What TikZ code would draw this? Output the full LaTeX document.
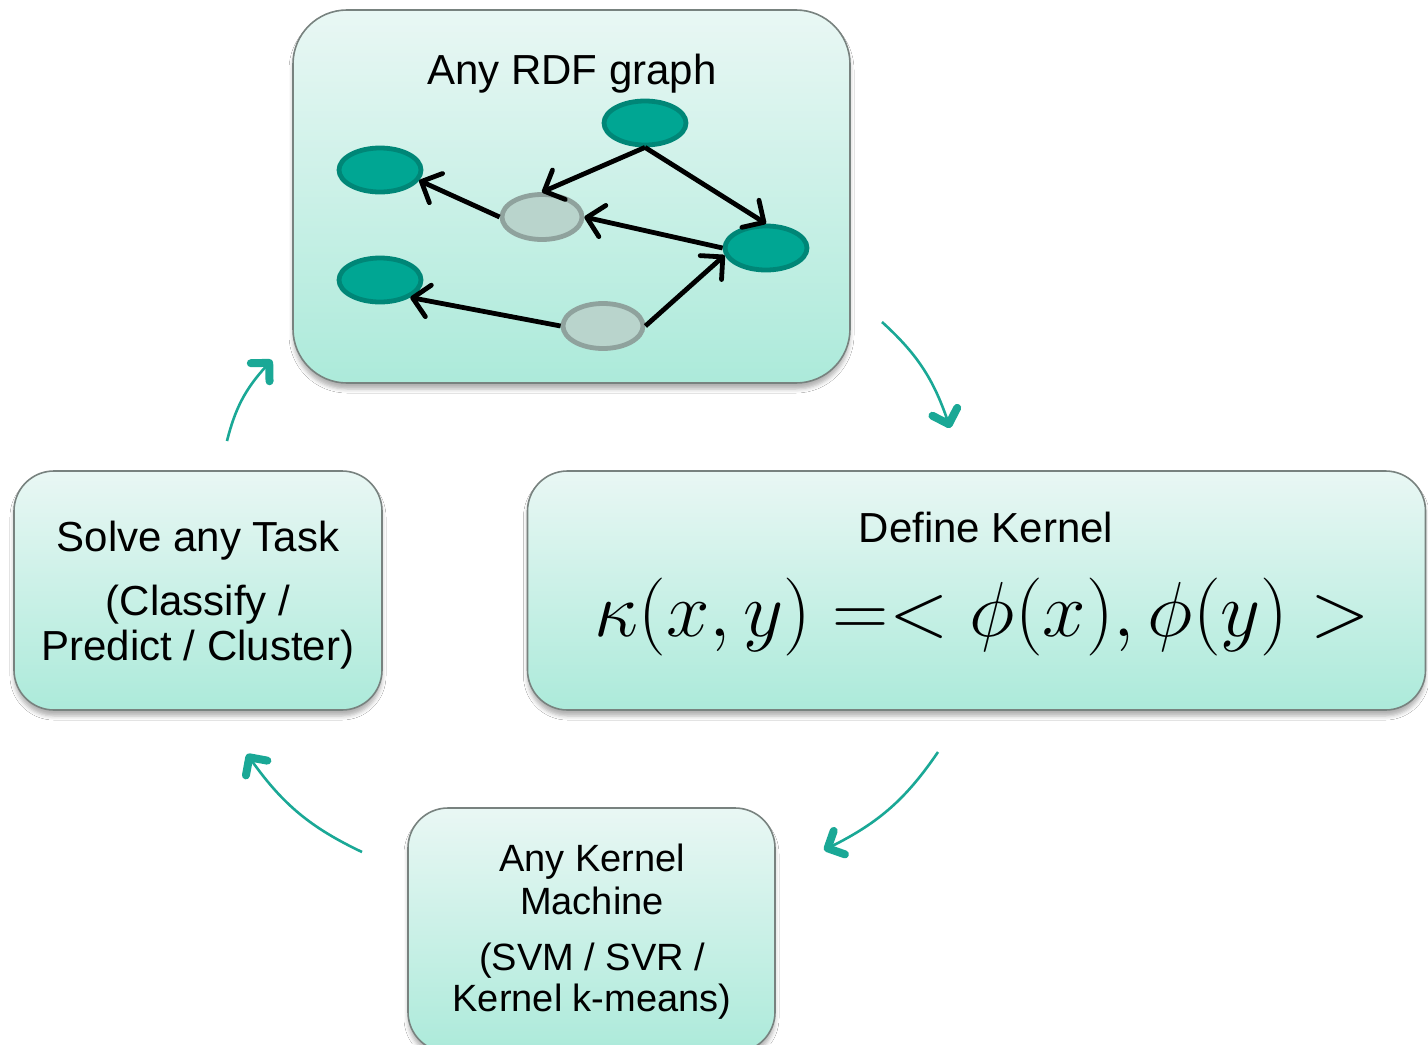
\documentclass[tikz,border=0pt]{standalone}
\usepackage{fontspec}
\setmainfont{Liberation Sans}
\usetikzlibrary{arrows.meta,bending,shapes.geometric,shadows.blur}

\definecolor{boxtop}{RGB}{233,247,244}
\definecolor{boxbot}{RGB}{172,234,218}
\definecolor{boxline}{RGB}{120,130,127}
\definecolor{tealfill}{RGB}{0,166,147}
\definecolor{tealline}{RGB}{0,134,119}
\definecolor{greyfill}{RGB}{185,212,204}
\definecolor{greyline}{RGB}{143,162,157}
\definecolor{flow}{RGB}{26,168,150}

\tikzset{
  panel/.style={draw=boxline, line width=0.8pt, rounded corners=20pt,
    top color=boxtop, bottom color=boxbot, inner sep=0pt,
    blur shadow={shadow xshift=0pt, shadow yshift=-3pt,
      shadow blur radius=2pt, shadow opacity=30}},
  bigtxt/.style={font=\fontsize{21}{25}\selectfont, inner sep=0pt, anchor=base},
  smalltxt/.style={font=\fontsize{19}{23}\selectfont, inner sep=0pt, anchor=base},
  tealnode/.style={ellipse, draw=tealline, fill=tealfill, line width=2.4pt,
    minimum width=41pt, minimum height=22pt, inner sep=0pt},
  greynode/.style={ellipse, draw=greyline, fill=greyfill, line width=2.4pt,
    minimum width=40pt, minimum height=22.5pt, inner sep=0pt},
  link/.style={draw=black, line width=2.4pt,
    -{Straight Barb[length=8pt,width=16pt,round]}},
  flowarrow/.style={draw=flow, line width=1.3pt,
    -{Straight Barb[length=6.5pt,width=13pt,line width=4pt,round]}},
}

\begin{document}
\begin{tikzpicture}[x=0.5pt,y=-0.5pt]
  \useasboundingbox (0,0) rectangle (1428,1044);
  \fill[white] (0,0) rectangle (1428,1044);
  \clip (0,0) rectangle (1428,1044);

  % panels
  \node[panel, rounded corners=27pt, minimum width=278.5pt, minimum height=186.5pt]
    (rdf) at (571.5,196.5) {};
  \node[panel, minimum width=184pt, minimum height=119.5pt]
    (task) at (198,590.5) {};
  \node[panel, minimum width=449pt, minimum height=119.5pt]
    (kernel) at (976.5,590.5) {};
  \node[panel, minimum width=183.5pt, minimum height=122pt]
    (machine) at (591.5,930) {};

  % panel texts
  \node[bigtxt] (rdftitle) at (572,84) {Any RDF graph};
  \node[bigtxt] (kerneltitle) at (986,542) {Define Kernel};
  \node[inner sep=0pt, anchor=base, font=\fontsize{24.88}{30}\selectfont]
    (formula) at (982,636)
    {\scalebox{1.567}{$\kappa(x,y) =< \phi(x),\phi(y) >$}};
  \node[bigtxt] (task1) at (198,551) {Solve any Task};
  \node[bigtxt] (task2) at (198,615) {(Classify /};
  \node[bigtxt] (task3) at (198,660) {Predict / Cluster)};
  \node[smalltxt] (mach1) at (592,871) {Any Kernel};
  \node[smalltxt] (mach2) at (592,914) {Machine};
  \node[smalltxt] (mach3) at (592,970) {(SVM / SVR /};
  \node[smalltxt] (mach4) at (592,1011) {Kernel k-means)};

  % the RDF graph
  \node[tealnode] (n1) at (645,123) {};
  \node[tealnode] (n2) at (380,170) {};
  \node[greynode] (g1) at (542,217) {};
  \node[tealnode] (n3) at (766,248) {};
  \node[tealnode] (n4) at (380,280) {};
  \node[greynode] (g2) at (603,326) {};

  \draw[link] (n1.south) -- (g1.north);
  \draw[link] (n1.south) -- (n3.north);
  \draw[link] (g1.west) -- (n2.-15);
  \draw[link] (n3.west) -- (g1.east);
  \draw[link] (g2.west) -- (n4.-30);
  \draw[link] (g2.east) -- (n3.190);

  % cycle arrows between the panels
  \coordinate (a1s) at (882,322);  \coordinate (a1e) at (950,428);
  \coordinate (a2s) at (938,752);  \coordinate (a2e) at (824,850);
  \coordinate (a3s) at (362,852);  \coordinate (a3e) at (247,754);
  \coordinate (a4s) at (227,441);  \coordinate (a4e) at (272,360);
  \draw[flowarrow] (a1s) to[bend left=15] (a1e);
  \draw[flowarrow] (a2s) to[bend left=15] (a2e);
  \draw[flowarrow] (a3s) to[bend left=15] (a3e);
  \draw[flowarrow] (a4s) to[bend left=15] (a4e);
\end{tikzpicture}
\end{document}
